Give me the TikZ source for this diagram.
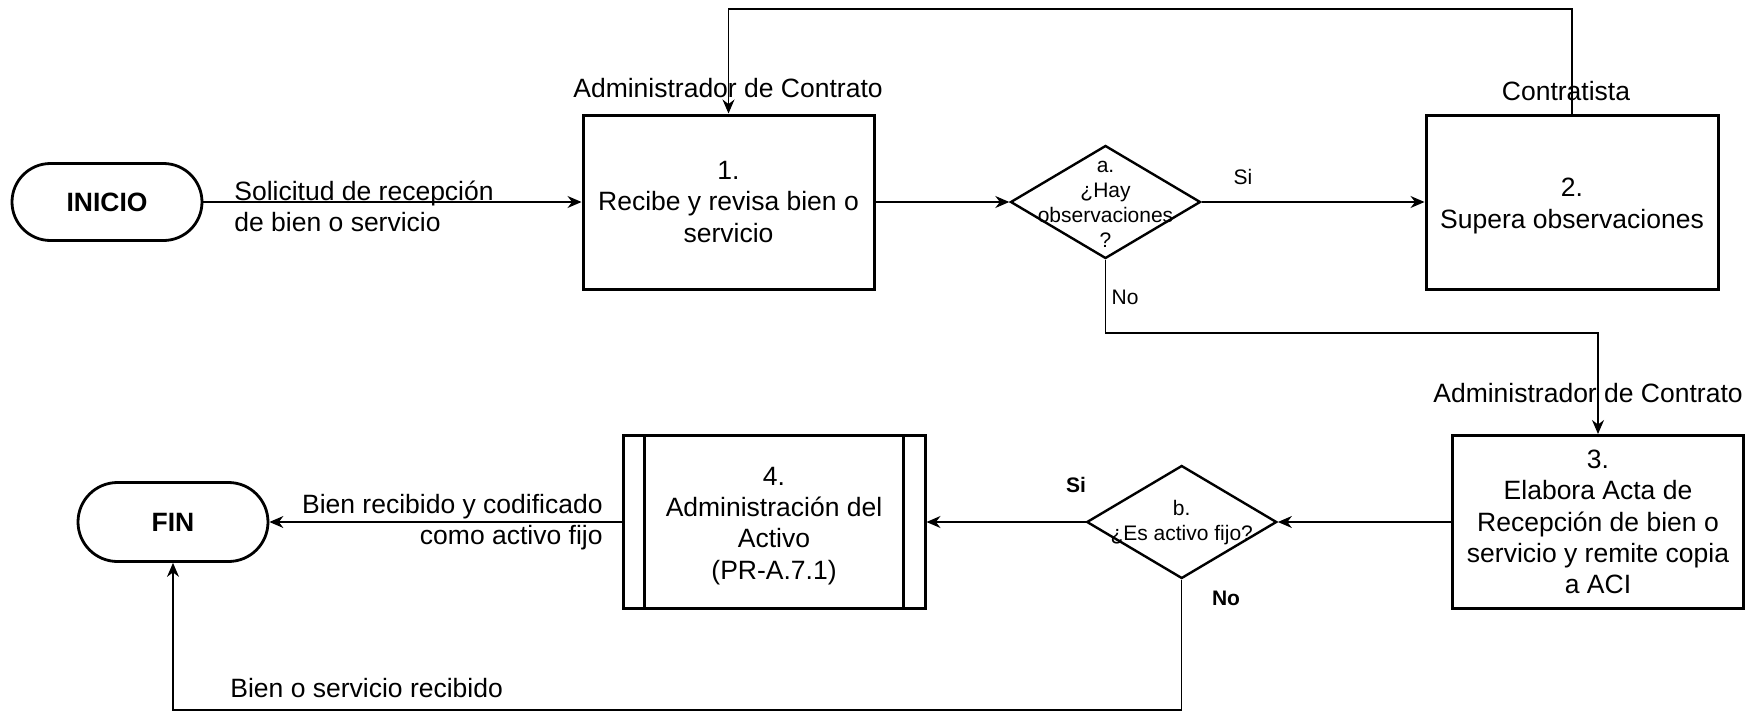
\documentclass[tikz,border=0pt]{standalone}
\usepackage{fontspec}
\setmainfont{Liberation Sans}
\usetikzlibrary{shapes.geometric,shapes.misc,arrows.meta}
\begin{document}
\begin{tikzpicture}[x=0.5pt,y=-0.5pt,
  every node/.style={font=\fontsize{13.25}{15.6}\selectfont, inner sep=0pt},
  procbox/.style={draw, line width=1.5pt, rectangle, minimum height=87pt, align=center},
  term/.style={draw, line width=1.4pt, rounded rectangle, minimum width=95pt, minimum height=38.5pt, font=\bfseries\fontsize{13.25}{15.6}\selectfont},
  decision/.style={draw, line width=1.2pt, diamond, minimum width=95pt, minimum height=56.5pt, inner sep=0pt},
  conn/.style={line width=0.6pt},
  arr/.style={conn, -{Stealth[length=7pt,width=6pt]}},
  boxtext/.style={align=center},
  small/.style={font=\fontsize{10.5}{12.5}\selectfont, align=center},
  smallbold/.style={font=\bfseries\fontsize{10.5}{12.5}\selectfont}]
\useasboundingbox (0,0) rectangle (1762,712);

% nodes
\node[term] (inicio) at (107,202) {INICIO};
\node[procbox, minimum width=145.5pt] (b1) at (728.5,202) {1.\\Recibe y revisa bien o\\servicio};
\node[decision] (da) at (1105.5,202) {};
\node[small] (dat) at (1105.5,204) {a.\\¿Hay\\observaciones\\?};
\node[procbox, minimum width=146pt] (b2) at (1572,202) {};
\node[boxtext] (b2t) at (1572,206) {2.\\Supera observaciones};
\node[procbox, minimum width=145.25pt, minimum height=86.5pt] (b3) at (1598,522) {3.\\Elabora Acta de\\Recepción de bien o\\servicio y remite copia\\a ACI};
\node[decision] (db) at (1181.7,522) {};
\node[small] (dbt) at (1181.7,523) {b.\\¿Es activo fijo?};
\node[procbox, minimum width=151pt, minimum height=86.5pt] (b4) at (774,522) {};
\node[boxtext] (b4t) at (774,526) {4.\\Administración del\\Activo\\(PR-A.7.1)};
\draw[line width=1.1pt] ([xshift=11.5pt]b4.north west) -- ([xshift=11.5pt]b4.south west);
\draw[line width=1.1pt] ([xshift=-11.5pt]b4.north east) -- ([xshift=-11.5pt]b4.south east);
\node[term, minimum height=39.5pt] (fin) at (173,522) {FIN};

% labels
\node[anchor=base] (adm1) at (728,97) {Administrador de Contrato};
\node[anchor=base] (contr) at (1566,100) {Contratista};
\node[anchor=base] (adm2) at (1588,402) {Administrador de Contrato};
\node[anchor=west, align=left] (sol) at (234,206) {Solicitud de recepción\\de bien o servicio};
\node[anchor=east, align=right] (bienrc) at (603,522) {Bien recibido y codificado\\como activo fijo};
\node[anchor=west] (bosr) at (230,688) {Bien o servicio recibido};
\node[small] (sia) at (1243,177) {Si};
\node[small] (noa) at (1125,297) {No};
\node[smallbold] (sib) at (1076,485) {Si};
\node[smallbold] (nob) at (1226,598) {No};

% connectors
\coordinate (top) at (1572,9);
\coordinate (nojoin) at (1105.5,333);
\coordinate (bottom) at (1181.7,710);
\draw[arr] (inicio.east) -- (b1.west);
\draw[arr] (b1.east) -- (da.west);
\draw[arr] (da.east) -- (b2.west);
\draw[arr] (b2.north) -- (top) -| (b1.north);
\draw[arr] (da.south) -- (nojoin) -| (b3.north);
\draw[arr] (b3.west) -- (db.east);
\draw[arr] (db.west) -- (b4.east);
\draw[arr] (b4.west) -- (fin.east);
\draw[arr] (db.south) -- (bottom) -| (fin.south);
\end{tikzpicture}
\end{document}
